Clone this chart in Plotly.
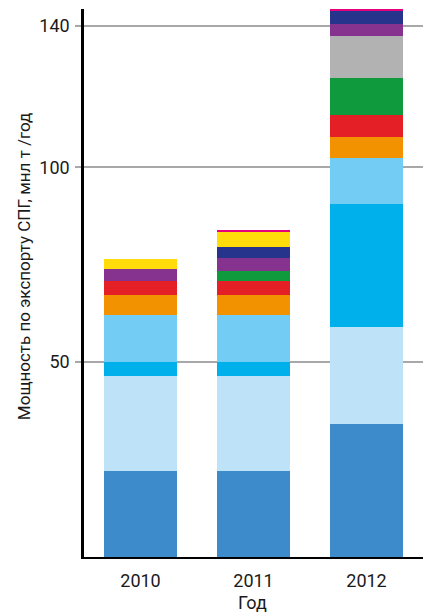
import plotly.graph_objects as go

years = ["2010", "2011", "2012"]

# stacked segments, bottom to top (млн т/год)
dark_blue = [22.0, 22.0, 34.1]
light_blue = [24.5, 24.5, 25.0]
cyan = [3.6, 3.6, 31.5]
sky_blue = [11.9, 11.9, 11.9]
orange = [5.1, 5.1, 5.2]
red = [3.7, 3.7, 5.7]
green = [0.0, 2.5, 9.6]
gray = [0.0, 0.0, 10.8]
purple = [3.0, 3.3, 3.0]
navy = [0.0, 3.0, 3.3]
yellow = [2.6, 3.7, 0.0]
magenta = [0.0, 0.6, 0.45]

series = [
    (dark_blue, "#3D8BCB"),
    (light_blue, "#BEE3F8"),
    (cyan, "#00B0EA"),
    (sky_blue, "#73CCF3"),
    (orange, "#F39200"),
    (red, "#E42026"),
    (green, "#0F9A3E"),
    (gray, "#B2B2B2"),
    (purple, "#86338F"),
    (navy, "#27348B"),
    (yellow, "#FFDC0A"),
    (magenta, "#E5007E"),
]

y_tick_vals = [50, 100, 136.2]
y_tick_text = ["50", "100", "140"]

fig = go.Figure()
for values, color in series:
    fig.add_trace(go.Bar(
        x=years, y=values,
        marker=dict(color=color, line=dict(width=0)),
        showlegend=False,
    ))

font = "Roboto, sans-serif"

fig.update_layout(
    barmode="stack",
    bargap=0.35,
    width=423, height=613,
    margin=dict(l=84, r=0, t=9, b=56),
    plot_bgcolor="white",
    paper_bgcolor="white",
    font=dict(family=font, size=18, color="#1a1a1a"),
    xaxis=dict(
        type="category",
        range=[-0.5, 2.5],
        showline=True, linecolor="black", linewidth=2,
        ticks="", showgrid=False,
        tickfont=dict(size=18),
        ticklabelstandoff=6,
    ),
    yaxis=dict(
        range=[0, 140.6],
        showline=True, linecolor="black", linewidth=2.5,
        ticks="outside", ticklen=6, tickwidth=1.5, tickcolor="#A8A8A8",
        tickvals=y_tick_vals, ticktext=y_tick_text,
        showgrid=True, gridcolor="#A8A8A8", gridwidth=1.5,
        zeroline=False,
        tickfont=dict(size=18),
        ticklabelstandoff=2,
    ),
    annotations=[
        dict(
            text="Мощность по экспорту СПГ, мнл т /год",
            xref="paper", yref="paper",
            x=-84 / 339 + 24 / 339, y=(557 - 266) / 548.3,
            xanchor="center", yanchor="middle",
            textangle=-90, showarrow=False,
            font=dict(size=17, family=font),
        ),
        dict(
            text="Год",
            xref="paper", yref="paper",
            x=(252 - 84) / 339, y=-(603 - 557) / 548.3,
            xanchor="center", yanchor="middle",
            showarrow=False,
            font=dict(size=18, family=font),
        ),
    ],
)

fig.write_html("out.html")
